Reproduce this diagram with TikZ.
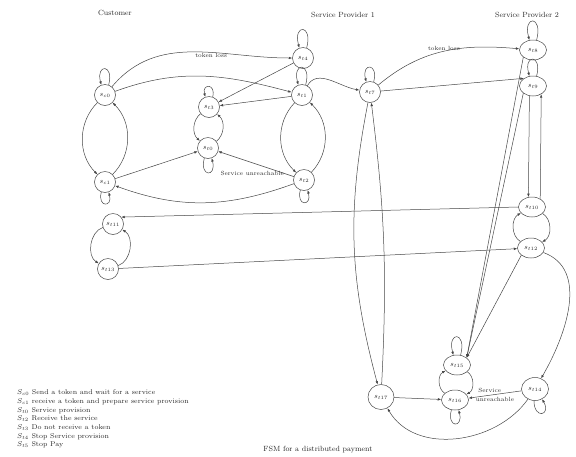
\documentclass[tikz,border=0pt]{standalone}
\usepackage{tikz}
\usetikzlibrary{
  shapes.geometric,
  arrows.meta
}
\definecolor{linecolor}{RGB}{70, 70, 70}
\definecolor{labelcolor}{RGB}{40, 40, 40}
\tikzset{
statenode/.style={
  circle,
  draw=linecolor,
  line width=0.5pt,
  inner sep=0pt,
  minimum size=21pt,
  font=\scriptsize,
  text=labelcolor
},
widestate/.style={
  ellipse,
  draw=linecolor,
  line width=0.5pt,
  inner sep=0pt,
  minimum width=27pt,
  minimum height=20pt,
  font=\scriptsize,
  text=labelcolor
},
arrow/.style={
  -{Latex[length=3.5pt,width=2.6pt]},
  line width=0.5pt,
  draw=linecolor
},
edgelabel/.style={
  font={\fontsize{6}{7}\selectfont},
  text=labelcolor,
  inner sep=1pt
},
titlelabel/.style={
  font={\fontsize{7.5}{9}\selectfont},
  text=labelcolor
},
legendtext/.style={
  anchor=west,
  inner sep=0pt,
  font={\fontsize{7}{8}\selectfont},
  text=labelcolor
}
}

\begin{document}
\begin{tikzpicture}[x=1pt, y=-1pt]
\useasboundingbox (0,0) rectangle (576,456);

% titres
\node[titlelabel] (cust) at (115,13) {Customer};
\node[titlelabel] (prov1) at (343,15) {Service Provider 1};
\node[titlelabel] (prov2) at (527,15) {Service Provider 2};
\node[titlelabel] (caption) at (318,450) {FSM for a distributed payment};

% ---------------- Customer ----------------
\node[statenode] (c0) at (105,95) {$s_{c0}$};
\node[statenode] (c1) at (105,182) {$s_{c1}$};
\node[statenode] (t3) at (209,107) {$s_{t3}$};
\node[statenode] (t0) at (208,148) {$s_{t0}$};
\node[statenode] (t11) at (113,224) {$s_{t11}$};
\node[statenode] (t13) at (108,269) {$s_{t13}$};

% ---------------- Service Provider 1 ----------------
\node[statenode] (t4) at (303,58) {$s_{t4}$};
\node[statenode] (t1) at (302,95) {$s_{t1}$};
\node[statenode] (t2) at (304,180) {$s_{t2}$};
\node[statenode] (t7) at (370,92) {$s_{t7}$};

% ---------------- Service Provider 2 ----------------
\node[widestate] (t8) at (533,50) {$s_{t8}$};
\node[widestate] (t9) at (533,86) {$s_{t9}$};
\node[widestate] (t10) at (532,207) {$s_{t10}$};
\node[widestate] (t12) at (531,248) {$s_{t12}$};

% bas
\node[widestate, minimum width=26pt, minimum height=25pt] (t17) at (381,397) {$s_{t17}$};
\node[widestate] (t15) at (457,365) {$s_{t15}$};
\node[widestate] (t16) at (455,400) {$s_{t16}$};
\node[widestate, minimum height=23pt] (t14) at (535,389) {$s_{t14}$};

% boucles
\draw[arrow] (c0.70) .. controls +(75:22pt) and +(105:22pt) .. (c0.110);
\draw[arrow] (c1.-110) .. controls +(-105:16pt) and +(-75:16pt) .. (c1.-70);
\draw[arrow] (t3.70) .. controls +(75:14pt) and +(105:14pt) .. (t3.110);
\draw[arrow] (t0.-110) .. controls +(-105:20pt) and +(-75:20pt) .. (t0.-70);
\draw[arrow] (t4.70) .. controls +(75:25pt) and +(105:25pt) .. (t4.110);
\draw[arrow] (t1.70) .. controls +(75:24pt) and +(105:24pt) .. (t1.110);
\draw[arrow] (t2.-110) .. controls +(-105:17pt) and +(-75:17pt) .. (t2.-70);
\draw[arrow] (t7.70) .. controls +(75:20pt) and +(105:20pt) .. (t7.110);
\draw[arrow] (t8.70) .. controls +(75:26pt) and +(105:26pt) .. (t8.110);
\draw[arrow] (t9.70) .. controls +(75:23pt) and +(105:23pt) .. (t9.110);
\draw[arrow] (t15.70) .. controls +(75:25pt) and +(105:25pt) .. (t15.110);
\draw[arrow] (t16.-110) .. controls +(-105:19pt) and +(-75:19pt) .. (t16.-70);
\draw[arrow] (t14.-95) .. controls +(-90:19pt) and +(-60:19pt) .. (t14.-55);

% Customer
\draw[arrow] (c0) to[bend right=45] (c1);
\draw[arrow] (c1) to[bend right=45] (c0);
\draw[arrow] (c0) to[out=50,in=180] node[edgelabel, pos=0.6, below] {token loss} (t4);
\draw[arrow] (c0) to[out=20,in=165] (t1);
\draw[arrow] (c1) -- (t0);
\draw[arrow] (t2) to[out=200,in=-20] (c1);

% etats du milieu
\draw[arrow] (t3) to[bend right=50] (t0);
\draw[arrow] (t0) to[bend right=50] (t3);
\draw[arrow] (t4) -- (t3);
\draw[arrow] (t1) -- (t3);
\draw[arrow] (t2) -- node[edgelabel, pos=0.55, below=7pt] {Service unreachable} (t0);

% Service Provider 1
\draw[arrow] (t1) to[bend right=45] (t2);
\draw[arrow] (t2) to[bend right=45] (t1);
\draw[arrow] (t1) to[out=60,in=170] (t7);
\draw[arrow] (t7) to[bend right=13] (t17);
\draw[arrow] (t17) to[bend right=5] (t7);
\draw[arrow] (t7) to[out=40,in=175] node[edgelabel, pos=0.5, above] {token loss} (t8);
\draw[arrow] (t7) -- (t9.140);

% Service Provider 2
\draw[arrow] (t8.south west) -- (t15.north east);
\draw[arrow] (t9.south west) -- (t15.north east);
\draw[arrow] (t9.250) -- (t10.110);
\draw[arrow] (t10.45) -- (t9.-45);
\draw[arrow] (t10) to[bend left=60] (t12);
\draw[arrow] (t12) to[bend left=60] (t10);
\draw[arrow] (t10.west) -- (t11.40);
\draw[arrow] (t13) -- (t12);
\draw[arrow] (t11) to[bend right=65] (t13);
\draw[arrow] (t13) to[bend right=65] (t11);
\draw[arrow] (t12.south west) -- (t15.north east);
\draw[arrow] (t12) to[out=-20,in=60] (t14);

% bas
\draw[arrow] (t17) -- (t16);
\draw[arrow] (t16) to[bend left=60] (t15);
\draw[arrow] (t15) to[bend left=60] (t16);
\draw[arrow] (t14) -- node[edgelabel, pos=0.6, above=1pt] {Service} node[edgelabel, pos=0.5, below=2pt] {unreachable} (t16);
\draw[arrow] (t14) to[out=235,in=-60] (t17);

% legende
\node[legendtext] (leg0) at (17,393) {$S_{c0}$ Send a token and wait for a service};
\node[legendtext] (leg1) at (17,402) {$S_{c1}$ receive a token and prepare service provision};
\node[legendtext] (leg2) at (17,411) {$S_{t0}$ Service provision};
\node[legendtext] (leg3) at (17,419) {$S_{t2}$ Receive the service};
\node[legendtext] (leg4) at (17,428) {$S_{t3}$ Do not receive a token};
\node[legendtext] (leg5) at (17,437) {$S_{t4}$ Stop Service provision};
\node[legendtext] (leg6) at (17,445) {$S_{t5}$ Stop Pay};

\end{tikzpicture}
\end{document}
